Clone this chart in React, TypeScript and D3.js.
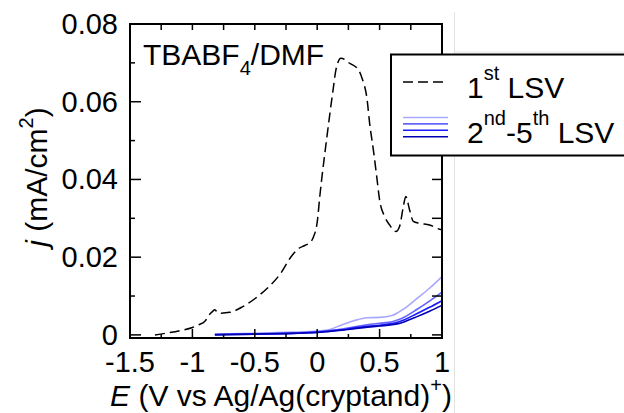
import React from "react";
import * as d3 from "d3";

// First LSV (dashed)
const E1 = [-1.3, -1.2, -1.1, -1.0, -0.95, -0.9, -0.87, -0.84, -0.82, -0.8, -0.77, -0.7, -0.6, -0.5, -0.4, -0.3, -0.2, -0.15, -0.1, -0.05, -0.03, 0.0, 0.022, 0.078, 0.127, 0.15, 0.19, 0.26, 0.33, 0.36, 0.4, 0.42, 0.45, 0.48, 0.5, 0.54, 0.58, 0.63, 0.66, 0.69, 0.71, 0.74, 0.77, 0.82, 0.9, 0.98, 1.0];
const J1 = [0, 0.0005, 0.0011, 0.0019, 0.0026, 0.0035, 0.005, 0.006, 0.0065, 0.0058, 0.0056, 0.0058, 0.0072, 0.0093, 0.012, 0.0155, 0.0205, 0.0222, 0.023, 0.024, 0.0252, 0.029, 0.036, 0.051, 0.063, 0.0682, 0.0712, 0.0699, 0.0682, 0.066, 0.0605, 0.0545, 0.0476, 0.0399, 0.0347, 0.0305, 0.0283, 0.0266, 0.0279, 0.033, 0.0356, 0.0322, 0.0292, 0.0287, 0.0283, 0.0272, 0.0271];

// 2nd-5th LSV (solid blue)
const E2 = [-0.82, -0.5, -0.2, 0, 0.1, 0.2, 0.3, 0.4, 0.5, 0.6, 0.65, 0.7, 0.8, 0.9, 1.0];
const J2 = [0.0002, 0.0004, 0.0007, 0.001, 0.0014, 0.0026, 0.0037, 0.0044, 0.0045, 0.005, 0.0058, 0.0068, 0.0094, 0.012, 0.015];
const J3 = [0.0001, 0.0003, 0.0005, 0.0008, 0.0011, 0.0015, 0.0021, 0.0026, 0.003, 0.0034, 0.0039, 0.0046, 0.0066, 0.0087, 0.011];
const J4 = [0.0001, 0.0002, 0.0004, 0.0007, 0.001, 0.0013, 0.0018, 0.0022, 0.0025, 0.0029, 0.0033, 0.0039, 0.0055, 0.0071, 0.0088];
const J5 = [0.0, 0.0002, 0.0004, 0.0006, 0.0009, 0.0012, 0.0016, 0.002, 0.0023, 0.0026, 0.0029, 0.0034, 0.0047, 0.0061, 0.0076];
const LATER_SCANS = [J2, J3, J4, J5];
const SCAN_COLORS = ["#a8a8ff", "#6464ff", "#1a1aff", "#0000b4"];

const X_TICKS = [-1.5, -1, -0.5, 0, 0.5, 1];
const X_TICK_LABELS = ["-1.5", "-1", "-0.5", "0", "0.5", "1"];
const Y_TICKS = [0, 0.02, 0.04, 0.06, 0.08];
const Y_TICK_LABELS = ["0", "0.02", "0.04", "0.06", "0.08"];

const FONT = "'Liberation Sans', Arial, Helvetica, sans-serif";

export default function App() {
  const left = 130, right = 442, top = 24, bottom = 338;
  const x = d3.scaleLinear().domain([-1.5, 1]).range([left, right]);
  const y = d3.scaleLinear().domain([-0.0008, 0.08]).range([bottom, top]);

  const line = d3
    .line<[number, number]>()
    .x((d) => x(d[0]))
    .y((d) => y(d[1]))
    .curve(d3.curveMonotoneX);

  const firstPath = line(E1.map((e, i) => [e, J1[i]]) as [number, number][]) || "";
  const laterPaths = LATER_SCANS.map(
    (js) => line(E2.map((e, i) => [e, js[i]]) as [number, number][]) || ""
  );

  const quarterTicks = d3.range(-1.5, 1.0001, 0.25);
  const hundredthTicks = d3.range(0, 0.0801, 0.01);

  return (
    <svg
      width={624}
      height={413}
      style={{ position: "absolute", left: 0, top: 0, background: "#fff" }}
      fontFamily={FONT}
    >
      <rect x={0} y={0} width={624} height={413} fill="#fff" />

      {/* faint guide lines */}
      <line x1={454.5} y1={12} x2={454.5} y2={413} stroke="#e2e2e2" strokeWidth={1} />
      <line x1={454.5} y1={52} x2={624} y2={52} stroke="#e2e2e2" strokeWidth={1} />

      {/* curves */}
      {laterPaths.map((p, i) => (
        <path key={i} d={p} fill="none" stroke={SCAN_COLORS[i]} strokeWidth={1.6} />
      ))}
      <path d={firstPath} fill="none" stroke="#000" strokeWidth={1.5} strokeDasharray="10 5" />

      {/* bottom ticks */}
      {quarterTicks.map((t, i) => {
        const major = Math.abs(t * 2 - Math.round(t * 2)) < 1e-6;
        return (
          <line key={"b" + i} x1={x(t)} x2={x(t)} y1={bottom} y2={bottom - (major ? 9 : 4)} stroke="#000" strokeWidth={1.5} />
        );
      })}
      {/* top ticks */}
      {quarterTicks.map((t, i) => (
        <line key={"t" + i} x1={x(t)} x2={x(t)} y1={top} y2={top + 6} stroke="#000" strokeWidth={1.5} />
      ))}
      {/* left ticks */}
      {hundredthTicks.map((t, i) => {
        const major = i % 2 === 0;
        return (
          <line key={"l" + i} x1={left} x2={left + (major ? 11 : 5)} y1={y(t)} y2={y(t)} stroke="#000" strokeWidth={1.5} />
        );
      })}
      {/* right ticks */}
      {hundredthTicks.map((t, i) => (
        <line key={"r" + i} x1={right} x2={right - 10} y1={y(t)} y2={y(t)} stroke="#000" strokeWidth={1.5} />
      ))}

      {/* frame */}
      <rect x={left} y={top} width={right - left} height={bottom - top} fill="none" stroke="#000" strokeWidth={2} />

      {/* tick labels */}
      {X_TICKS.map((t, i) => (
        <text key={"xl" + i} x={x(t)} y={372} textAnchor="middle" fontSize={29} fill="#000">
          {X_TICK_LABELS[i]}
        </text>
      ))}
      {Y_TICKS.map((t, i) => (
        <text key={"yl" + i} x={118} y={y(t) + 10} textAnchor="end" fontSize={29} fill="#000">
          {Y_TICK_LABELS[i]}
        </text>
      ))}

      {/* axis titles */}
      <text x={281} y={406} textAnchor="middle" fontSize={30} fill="#000">
        <tspan fontStyle="italic">E</tspan>
        <tspan> (V vs Ag/Ag(cryptand)</tspan>
        <tspan fontSize={20} dy={-14}>+</tspan>
        <tspan dy={14}>)</tspan>
      </text>
      <text transform="translate(47,177) rotate(-90)" textAnchor="middle" fontSize={30} fill="#000">
        <tspan fontStyle="italic">j</tspan>
        <tspan> (mA/cm</tspan>
        <tspan fontSize={20} dy={-14}>2</tspan>
        <tspan dy={14}>)</tspan>
      </text>

      {/* electrolyte annotation */}
      <text x={143} y={65} fontSize={30} fill="#000">
        <tspan>TBABF</tspan>
        <tspan fontSize={20} dy={10}>4</tspan>
        <tspan dy={-10}>/DMF</tspan>
      </text>

      {/* legend */}
      <rect x={391} y={54.5} width={320} height={101} fill="#fff" stroke="#000" strokeWidth={2} />
      <line x1={403} x2={447} y1={82} y2={82} stroke="#000" strokeWidth={1.5} strokeDasharray="10 5" />
      {SCAN_COLORS.map((c, i) => (
        <line key={"lg" + i} x1={403} x2={448} y1={117.5 + i * 6.4} y2={117.5 + i * 6.4} stroke={c} strokeWidth={1.6} />
      ))}
      <text x={467} y={98} fontSize={30} fill="#000">
        <tspan>1</tspan>
        <tspan fontSize={20} dy={-18}>st</tspan>
        <tspan dy={18}> LSV</tspan>
      </text>
      <text x={467} y={143} fontSize={30} fill="#000">
        <tspan>2</tspan>
        <tspan fontSize={20} dy={-18}>nd</tspan>
        <tspan dy={18}>-5</tspan>
        <tspan fontSize={20} dy={-18}>th</tspan>
        <tspan dy={18}> LSV</tspan>
      </text>
    </svg>
  );
}
